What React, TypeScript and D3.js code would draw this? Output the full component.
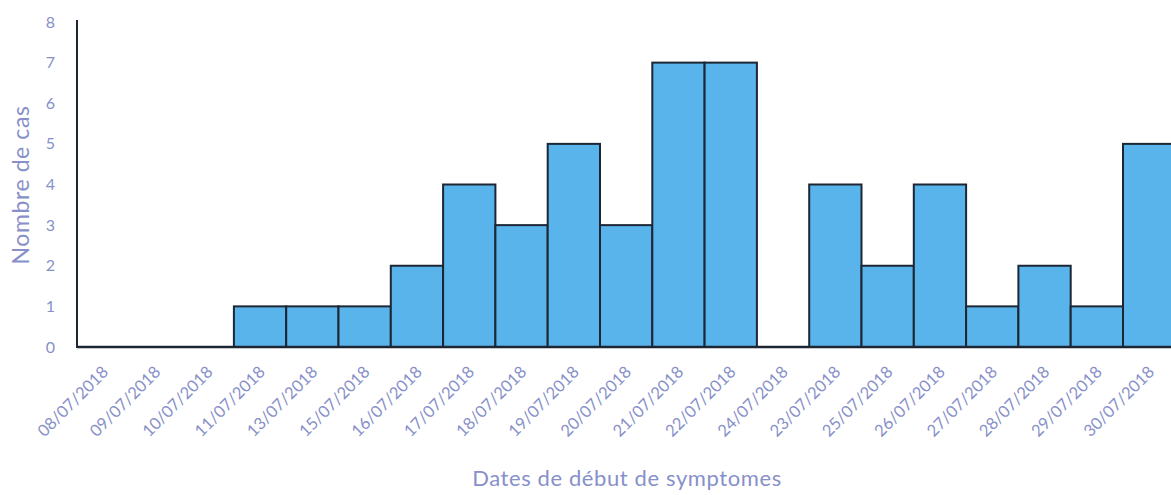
import { useEffect, useRef } from "react";
import * as d3 from "d3";

// Dates de début de symptomes (ordre du graphique d'origine)
const dates = [
  "08/07/2018", "09/07/2018", "10/07/2018", "11/07/2018", "13/07/2018",
  "15/07/2018", "16/07/2018", "17/07/2018", "18/07/2018", "19/07/2018",
  "20/07/2018", "21/07/2018", "22/07/2018", "24/07/2018", "23/07/2018",
  "25/07/2018", "26/07/2018", "27/07/2018", "28/07/2018", "29/07/2018",
  "30/07/2018",
];

// Nombre de cas par date
const cases = [0, 0, 0, 1, 1, 1, 2, 4, 3, 5, 3, 7, 7, 0, 4, 2, 4, 1, 2, 1, 5];

const yTicks = [0, 1, 2, 3, 4, 5, 6, 7, 8];

const width = 1171;
const height = 495;
const MARGIN = { top: 22, left: 77, bottom: 148 };
const BAND = 52.3;

const TEXT_COLOR = "#8790c9";
const FONT = "Lato, 'Open Sans', sans-serif";

export default function App() {
  const svgRef = useRef(null);

  useEffect(() => {
    const svg = d3.select(svgRef.current);
    svg.selectAll("*").remove();

    const baseY = height - MARGIN.bottom;

    const xScale = d3
      .scaleBand()
      .domain(dates)
      .range([MARGIN.left, MARGIN.left + BAND * dates.length])
      .padding(0);

    const yScale = d3.scaleLinear().domain([0, 8]).range([baseY, MARGIN.top]);

    // bars
    svg
      .append("g")
      .selectAll("rect")
      .data(dates.map((d, i) => ({ date: d, value: cases[i] })).filter((d) => d.value > 0))
      .join("rect")
      .attr("x", (d) => xScale(d.date))
      .attr("y", (d) => yScale(d.value))
      .attr("width", xScale.bandwidth())
      .attr("height", (d) => baseY - yScale(d.value))
      .attr("fill", "#5ab4ec")
      .attr("stroke", "#1c2733")
      .attr("stroke-width", 2);

    // x axis line
    svg
      .append("line")
      .attr("x1", MARGIN.left)
      .attr("x2", width)
      .attr("y1", baseY)
      .attr("y2", baseY)
      .attr("stroke", "#1c2733")
      .attr("stroke-width", 2.5);

    // y axis line
    svg
      .append("line")
      .attr("x1", MARGIN.left)
      .attr("x2", MARGIN.left)
      .attr("y1", yScale(8) - 2)
      .attr("y2", baseY + 1)
      .attr("stroke", "#1c2733")
      .attr("stroke-width", 2);

    // y tick labels
    svg
      .append("g")
      .selectAll("text")
      .data(yTicks)
      .join("text")
      .attr("x", 55)
      .attr("y", (d) => yScale(d))
      .attr("dy", "0.35em")
      .attr("text-anchor", "end")
      .attr("fill", TEXT_COLOR)
      .attr("font-family", FONT)
      .attr("font-size", 16)
      .text((d) => d);

    // x tick labels, rotated
    svg
      .append("g")
      .selectAll("text")
      .data(dates)
      .join("text")
      .attr(
        "transform",
        (d) => `translate(${xScale(d) + xScale.bandwidth() / 2 + 2},${baseY + 22}) rotate(-45)`
      )
      .attr("text-anchor", "end")
      .attr("dy", "0.35em")
      .attr("fill", TEXT_COLOR)
      .attr("font-family", FONT)
      .attr("font-size", 16.5)
      .text((d) => d);

    // axis titles
    svg
      .append("text")
      .attr("transform", `translate(29,185) rotate(-90)`)
      .attr("text-anchor", "middle")
      .attr("fill", TEXT_COLOR)
      .attr("font-family", FONT)
      .attr("font-size", 23)
      .attr("letter-spacing", 0.6)
      .text("Nombre de cas");

    svg
      .append("text")
      .attr("x", 627)
      .attr("y", 486)
      .attr("text-anchor", "middle")
      .attr("fill", TEXT_COLOR)
      .attr("font-family", FONT)
      .attr("font-size", 22)
      .attr("letter-spacing", 0.6)
      .text("Dates de début de symptomes");
  }, []);

  return (
    <svg
      ref={svgRef}
      width={width}
      height={height}
      style={{ position: "absolute", left: 0, top: 0, background: "#fff" }}
    />
  );
}
